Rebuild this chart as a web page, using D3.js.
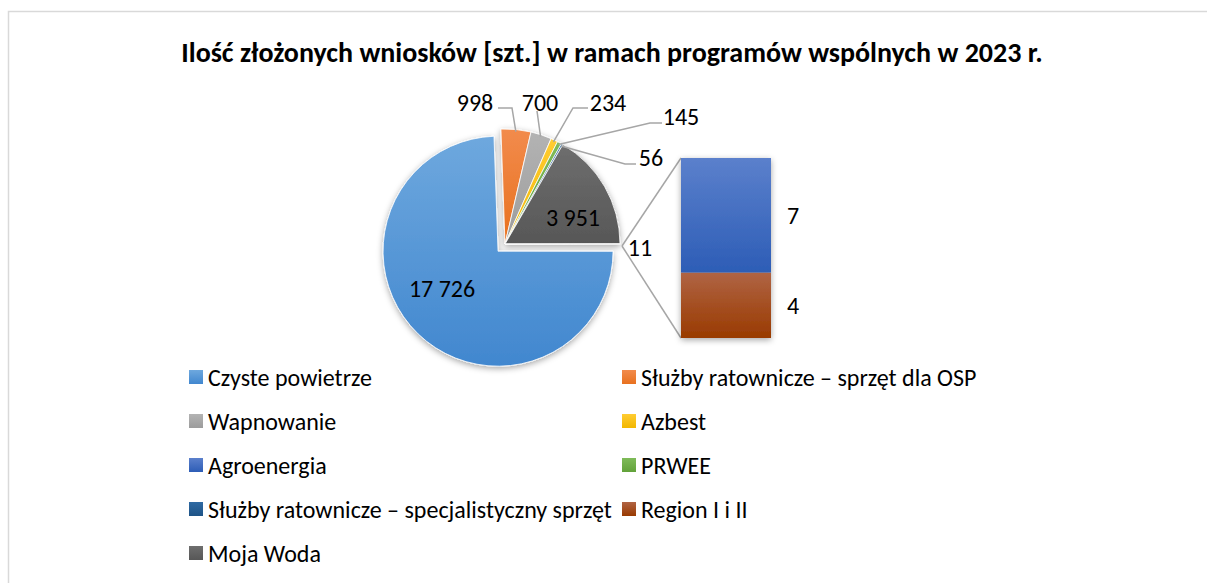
<!DOCTYPE html>
<html lang="pl">
<head>
  <meta charset="UTF-8">
  <title>Ilość złożonych wniosków 2023</title>
  <style>
    body { margin: 0; background: #fff; }
    svg text { font-family: Carlito, Calibri, Lato, sans-serif; fill: #000; }
  </style>
  <script src="https://d3js.org/d3.v7.min.js"></script>
</head>
<body>
  <div id="chart"></div>
  <script>
    // data
    const categories = [
      "Czyste powietrze",
      "Służby ratownicze – sprzęt dla OSP",
      "Wapnowanie",
      "Azbest",
      "Agroenergia",
      "PRWEE",
      "Służby ratownicze – specjalistyczny sprzęt",
      "Region I i II",
      "Moja Woda"
    ];
    const values = [17726, 998, 700, 234, 7, 145, 56, 4, 3951];
    const barCategories = ["Agroenergia", "Region I i II"];   // go to the bar
    const pieOrder = [
      "Służby ratownicze – sprzęt dla OSP", "Wapnowanie", "Azbest", "PRWEE",
      "Służby ratownicze – specjalistyczny sprzęt", "Moja Woda", "Pozostałe", "Czyste powietrze"
    ];
    const title = "Ilość złożonych wniosków [szt.] w ramach programów wspólnych w 2023 r.";

    // top / bottom gradient colours per category
    const colorTop = {
      "Czyste powietrze": "#6ea8de", "Służby ratownicze – sprzęt dla OSP": "#f28b4c",
      "Wapnowanie": "#b3b3b3", "Azbest": "#ffcc33", "Agroenergia": "#5b80cc",
      "PRWEE": "#7fbb59", "Służby ratownicze – specjalistyczny sprzęt": "#2f6aa3",
      "Region I i II": "#b06444", "Moja Woda": "#6e6e6e", "Pozostałe": "#9a9a9a"
    };
    const colorBottom = {
      "Czyste powietrze": "#4187cf", "Służby ratownicze – sprzęt dla OSP": "#e8711f",
      "Wapnowanie": "#9c9c9c", "Azbest": "#f2b700", "Agroenergia": "#2d5db6",
      "PRWEE": "#62a23a", "Służby ratownicze – specjalistyczny sprzęt": "#1e5386",
      "Region I i II": "#993a00", "Moja Woda": "#575757", "Pozostałe": "#8a8a8a"
    };

    const W = 1207, H = 583;
    const cx = 505, cy = 244, R = 115;
    const fmt = d3.formatLocale({decimal: ",", thousands: "\u00a0", grouping: [3], currency: ["", ""]}).format(",d");

    const valueOf = {};
    categories.forEach((c, i) => valueOf[c] = values[i]);
    valueOf["Pozostałe"] = d3.sum(barCategories, c => valueOf[c]);

    const svg = d3.select("#chart").append("svg")
      .attr("width", W).attr("height", H);

    const defs = svg.append("defs");
    Object.keys(colorTop).forEach((k, i) => {
      const g = defs.append("linearGradient").attr("id", "grad" + i)
        .attr("x1", 0).attr("y1", 0).attr("x2", 0).attr("y2", 1);
      g.append("stop").attr("offset", "0%").attr("stop-color", colorTop[k]);
      g.append("stop").attr("offset", "100%").attr("stop-color", colorBottom[k]);
    });
    const fillOf = k => "url(#grad" + Object.keys(colorTop).indexOf(k) + ")";

    const shadow = defs.append("filter").attr("id", "shadow")
      .attr("x", "-20%").attr("y", "-20%").attr("width", "140%").attr("height", "140%");
    shadow.append("feDropShadow").attr("dx", 0).attr("dy", 2).attr("stdDeviation", 3)
      .attr("flood-color", "#000").attr("flood-opacity", 0.35);

    // chart area border
    svg.append("rect")
      .attr("x", 8.5).attr("y", 11.5).attr("width", W + 10).attr("height", H + 10)
      .attr("fill", "none").attr("stroke", "#d9d9d9").attr("stroke-width", 1.5);

    svg.append("text")
      .attr("x", 612).attr("y", 52)
      .attr("text-anchor", "middle").attr("dominant-baseline", "central")
      .style("font-size", "28px").style("font-weight", "bold")
      .text(title);

    // pie: the "other" slice is centred at 3 o'clock
    const total = d3.sum(pieOrder, k => valueOf[k]);
    const otherIdx = pieOrder.indexOf("Pozostałe");
    const before = d3.sum(pieOrder.slice(0, otherIdx), k => valueOf[k]);
    const start = Math.PI / 2 - (before + valueOf["Pozostałe"] / 2) / total * 2 * Math.PI;
    const pie = d3.pie().sort(null).value(k => valueOf[k])
      .startAngle(start).endAngle(start + 2 * Math.PI);
    const arcs = pie(pieOrder);
    const arc = d3.arc().innerRadius(0).outerRadius(R);
    const explode = 10;

    const pieG = svg.append("g").attr("transform", `translate(${cx},${cy})`)
      .attr("filter", "url(#shadow)");
    pieG.selectAll("path").data(arcs).join("path")
      .attr("transform", d => {
        if (d.data !== "Czyste powietrze") return null;
        const a = (d.startAngle + d.endAngle) / 2;
        return `translate(${explode * Math.sin(a)},${-explode * Math.cos(a)})`;
      })
      .attr("d", arc)
      .attr("fill", d => fillOf(d.data))
      .attr("stroke", "#fff").attr("stroke-width", 0.8);

    const otherArc = arcs[otherIdx];
    const otherPt = [cx + R * Math.sin((otherArc.startAngle + otherArc.endAngle) / 2),
                     cy - R * Math.cos((otherArc.startAngle + otherArc.endAngle) / 2)];

    // bar of the split slice
    const stackData = barCategories.slice().reverse();   // Region at bottom
    const yBar = d3.scaleLinear().domain([0, valueOf["Pozostałe"]]).range([338, 158]);
    const xBar = d3.scaleBand().domain(["bar"]).range([681, 771]).padding(0);
    let acc = 0;
    const stacked = stackData.map(k => { const s = {k, y0: acc, y1: acc + valueOf[k]}; acc += valueOf[k]; return s; });

    // connector lines
    svg.append("g").selectAll("line").data([0, valueOf["Pozostałe"]]).join("line")
      .attr("x1", otherPt[0] + 2).attr("y1", otherPt[1] + 2)
      .attr("x2", xBar("bar")).attr("y2", d => yBar(d))
      .attr("stroke", "#a6a6a6").attr("stroke-width", 1.5);

    const barG = svg.append("g").attr("filter", "url(#shadow)");
    barG.selectAll("rect").data(stacked).join("rect")
      .attr("x", xBar("bar")).attr("width", xBar.bandwidth())
      .attr("y", d => yBar(d.y1)).attr("height", d => yBar(d.y0) - yBar(d.y1))
      .attr("fill", d => fillOf(d.k));

    svg.append("g").selectAll("text").data(stacked).join("text")
      .attr("x", xBar("bar") + xBar.bandwidth() + 22)
      .attr("y", d => yBar((d.y0 + d.y1) / 2))
      .attr("text-anchor", "middle").attr("dominant-baseline", "central")
      .style("font-size", "24px")
      .text(d => fmt(valueOf[d.k]));

    // pie data labels (placed by hand as in the source), leader lines end on the slice
    const labelPos = {
      "Służby ratownicze – sprzęt dla OSP": {x: 475, y: 102, leader: [[498, 108], [512, 108]]},
      "Wapnowanie": {x: 540, y: 102, leader: [[537, 111]]},
      "Azbest": {x: 608, y: 102, leader: [[588, 108], [573, 108]]},
      "PRWEE": {x: 681, y: 116, leader: [[662, 123], [650, 123]]},
      "Służby ratownicze – specjalistyczny sprzęt": {x: 651, y: 157, leader: [[636, 164], [625, 164]]},
      "Moja Woda": {x: 573, y: 217},
      "Pozostałe": {x: 640, y: 247},
      "Czyste powietrze": {x: 442, y: 288}
    };
    const labG = svg.append("g");
    arcs.forEach(d => {
      const p = labelPos[d.data];
      if (!p) return;
      if (p.leader) {
        const a = (d.startAngle + d.endAngle) / 2;
        const end = [cx + (R - 2) * Math.sin(a), cy - (R - 2) * Math.cos(a)];
        labG.append("path")
          .attr("d", d3.line()(p.leader.concat([end])))
          .attr("fill", "none").attr("stroke", "#a6a6a6").attr("stroke-width", 1.5);
      }
      labG.append("text")
        .attr("x", p.x).attr("y", p.y)
        .attr("text-anchor", "middle").attr("dominant-baseline", "central")
        .style("font-size", "24px")
        .text(fmt(valueOf[d.data]));
    });

    // legend, two columns
    const legX = [189, 622], legY0 = 377, legDy = 44;
    const leg = svg.append("g").selectAll("g").data(categories).join("g")
      .attr("transform", (d, i) => `translate(${legX[i % 2]},${legY0 + Math.floor(i / 2) * legDy})`);
    leg.append("rect").attr("x", 0).attr("y", -7).attr("width", 14).attr("height", 14)
      .attr("fill", d => fillOf(d));
    leg.append("text").attr("x", 19).attr("y", 0)
      .attr("dominant-baseline", "central")
      .style("font-size", "24px")
      .text(d => d);
  </script>
</body>
</html>
